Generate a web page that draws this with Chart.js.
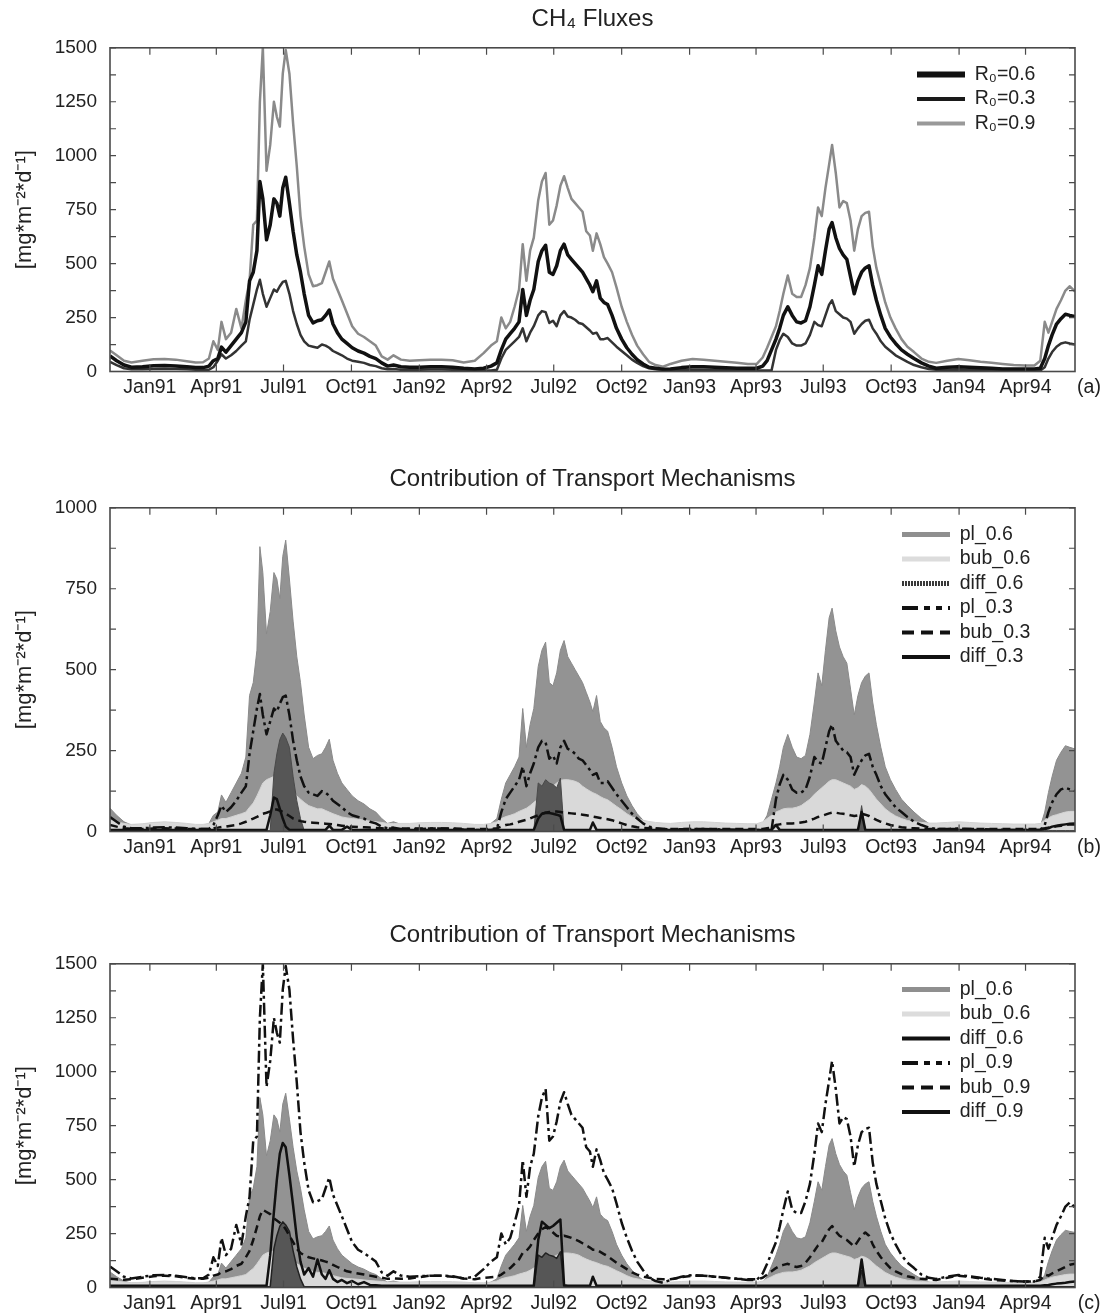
<!DOCTYPE html>
<html>
<head>
<meta charset="utf-8">
<script src="https://cdn.jsdelivr.net/npm/chart.js@4.4.1/dist/chart.umd.min.js"></script>
<style>
  html, body { margin: 0; padding: 0; background: #fff; }
  #page { position: relative; width: 1105px; height: 1316px; }
  #page canvas { position: absolute; left: 0; }
</style>
</head>
<body>
<div id="page">
  <canvas id="chartA" width="1105" height="400" style="top:0"></canvas>
  <canvas id="chartB" width="1105" height="400" style="top:460px"></canvas>
  <canvas id="chartC" width="1105" height="400" style="top:916px"></canvas>
</div>
<script>
// x values: days since 1 Jan 1991 (denser sampling in the summer seasons)
const days = [
  -54, -45, -35, -25, -10, 5, 20, 35, 50, 62, 72,
  80, 86, 92, 97, 103, 110, 117, 124, 130, 135, 140, 145, 149, 153, 158, 163, 168, 172, 176, 180,
  184, 189, 194, 199, 204, 209, 215, 221, 227, 233, 238, 243, 248, 254, 260, 267, 274, 282, 290, 298, 306, 314, 322, 330,
  340, 352, 365, 380, 395, 410, 425, 440, 452, 462,
  470, 476, 482, 488, 494, 500, 505, 510, 515, 520, 526, 531, 536, 541, 546, 551, 556, 561, 566, 571,
  576, 581, 586, 591, 596, 600, 605, 610, 615, 620, 626, 632, 639, 646, 653, 660, 668, 676, 685, 695,
  705, 720, 735, 750, 765, 780, 795, 810, 822,
  830, 836, 842, 848, 853, 858, 864, 870, 876, 882, 888, 894, 900, 905, 910, 915, 920, 924, 929, 934,
  939, 944, 949, 954, 959, 964, 969, 974, 979, 984, 990, 996, 1003, 1010, 1018, 1026, 1035, 1045, 1055,
  1065, 1080, 1095, 1110, 1125, 1140, 1155, 1170, 1185, 1198,
  1206, 1212, 1217, 1222, 1228, 1234, 1240, 1246, 1253
];

const tickDays = [0, 90, 181, 273, 365, 456, 547, 639, 731, 821, 912, 1004, 1096, 1186];
const tickLabels = ['Jan91', 'Apr91', 'Jul91', 'Oct91', 'Jan92', 'Apr92', 'Jul92', 'Oct92',
                    'Jan93', 'Apr93', 'Jul93', 'Oct93', 'Jan94', 'Apr94'];

// total fluxes (= pl_x curves in panels b and c)
const flux06 = [
  72, 50, 30, 20, 22, 27, 28, 26, 22, 18, 18,
  25, 50, 60, 113, 90, 120, 150, 180, 230, 420, 460, 560, 880, 800, 610, 680, 800, 780, 720, 850,
  900, 780, 650, 540, 460, 360, 260, 225, 235, 240, 260, 285, 220, 180, 150, 130, 110, 95, 85, 70, 60, 40, 25, 30,
  22, 20, 20, 22, 22, 20, 15, 12, 15, 25,
  40, 100, 150, 175, 200, 230, 380, 260, 330, 380, 510, 560, 585, 460, 450, 490, 560, 590, 540, 520,
  500, 480, 460, 430, 400, 370, 420, 340, 320, 310, 260, 200, 150, 110, 80, 55, 35, 20, 15, 10,
  12, 18, 22, 22, 20, 17, 15, 15, 15,
  25, 50, 100, 150, 200, 260, 300, 260, 230, 225, 235, 300, 400, 490, 450, 560, 660, 690, 620, 570,
  540, 520, 440, 360, 420, 460, 480, 490, 400, 330, 260, 200, 160, 130, 100, 80, 60, 40, 25,
  15, 20, 22, 20, 17, 15, 12, 12, 12, 12,
  15, 60, 120, 170, 220, 245, 265, 260, 255
];
const flux03 = [
  45, 30, 15, 10, 10, 12, 13, 12, 10, 8, 8,
  8, 20, 50, 80, 60, 75, 95, 120, 140, 240, 310, 380, 425, 360, 300, 340, 380, 370, 395, 415,
  420, 360, 280, 220, 170, 140, 120, 115, 110, 125, 120, 110, 95, 85, 75, 60, 50, 45, 40, 30, 25, 15, 10, 12,
  8, 8, 8, 9, 9, 8, 6, 5, 5, 5,
  8, 60, 100, 120, 140, 160, 200, 140, 180, 210, 260, 280, 275, 225, 235, 210, 260, 280, 255, 250,
  240, 225, 220, 205, 190, 175, 180, 150, 150, 155, 135, 115, 95, 75, 55, 40, 25, 15, 10, 8,
  6, 7, 8, 8, 7, 6, 5, 5, 5,
  5, 5, 5, 100, 145, 175, 160, 130, 120, 120, 130, 170, 230, 215, 210, 260, 310, 330, 280, 265,
  250, 245, 230, 175, 200, 220, 235, 240, 200, 175, 140, 115, 95, 75, 60, 45, 30, 20, 12,
  8, 8, 9, 8, 7, 6, 5, 5, 5, 5,
  5, 20, 60, 90, 115, 130, 135, 130, 125
];
const flux09 = [
  97, 75, 50, 42, 50, 57, 58, 55, 48, 42, 43,
  60, 140, 100, 230, 150, 180, 290, 200, 330, 420, 680, 700, 1250, 1500, 930, 1050, 1250, 1180, 1135, 1380,
  1490, 1380, 1150, 950, 720, 580, 450, 395, 400, 410, 460, 510, 430, 380, 330, 270, 210, 175, 160, 140, 120, 70, 55, 75,
  55, 50, 52, 55, 55, 52, 42, 50, 85, 120,
  140, 250, 200, 230, 300, 380, 590, 420, 560, 620, 794, 880, 920, 680, 700, 770, 860, 905, 850, 800,
  780, 760, 740, 650, 630, 560, 640, 590, 530, 500, 460, 390, 300, 230, 170, 120, 80, 45, 30, 22,
  35, 50, 58, 55, 50, 45, 40, 35, 35,
  65, 110, 160, 210, 280, 360, 445, 360, 345, 345, 400, 480, 620, 760, 720, 850, 960, 1050, 920, 760,
  790, 780, 700, 560, 660, 720, 735, 740, 580, 480, 400, 320, 250, 200, 150, 115, 90, 60, 45,
  40, 50, 58, 52, 45, 40, 35, 30, 28, 28,
  50, 230, 180, 230, 290, 330, 375, 395, 370
];

// bubble and diffusion parts
const bub06 = [
  35, 30, 25, 22, 24, 28, 30, 28, 25, 22, 22,
  25, 30, 35, 40, 40, 45, 50, 55, 60, 75, 88, 110, 130, 150, 160, 165, 170, 165, 160, 160,
  150, 140, 125, 110, 100, 90, 80, 75, 70, 70, 65, 60, 55, 50, 45, 42, 40, 38, 35, 32, 30, 28, 25, 25,
  25, 25, 27, 28, 28, 27, 25, 22, 22, 25,
  30, 40, 46, 50, 55, 62, 67, 72, 80, 90, 100, 110, 120, 130, 140, 150, 158, 160, 160, 158,
  155, 150, 140, 132, 125, 120, 115, 108, 102, 98, 88, 78, 67, 55, 45, 40, 35, 31, 28, 26,
  25, 28, 30, 30, 28, 26, 25, 24, 24,
  30, 40, 50, 60, 65, 70, 72, 72, 75, 80, 90, 100, 115, 125, 135, 145, 155, 160, 160, 155,
  150, 145, 140, 130, 135, 145, 140, 130, 115, 100, 85, 70, 58, 48, 40, 34, 30, 28, 26,
  26, 28, 30, 28, 26, 25, 24, 23, 23, 23,
  25, 35, 42, 48, 52, 56, 60, 62, 62
];
const diff06 = [
  3, 3, 3, 3, 3, 3, 3, 3, 3, 3, 3,
  3, 3, 3, 3, 3, 3, 3, 3, 3, 3, 3, 3, 3, 3, 3, 3, 180, 240, 284, 304,
  290, 260, 170, 95, 40, 3, 3, 3, 3, 3, 3, 3, 3, 3, 3, 3, 3, 3, 3, 3, 3, 3, 3, 3,
  3, 3, 3, 3, 3, 3, 3, 3, 3, 3,
  3, 3, 3, 3, 3, 3, 3, 3, 3, 3, 150, 140, 160, 150, 145, 135, 165, 3, 3, 3,
  3, 3, 3, 3, 3, 3, 3, 3, 3, 3, 3, 3, 3, 3, 3, 3, 3, 3, 3, 3,
  3, 3, 3, 3, 3, 3, 3, 3, 3,
  3, 3, 3, 3, 3, 3, 3, 3, 3, 3, 3, 3, 3, 3, 3, 3, 3, 3, 3, 3,
  3, 3, 3, 3, 3, 80, 3, 3, 3, 3, 3, 3, 3, 3, 3, 3, 3, 3, 3,
  3, 3, 3, 3, 3, 3, 3, 3, 3, 3,
  3, 3, 3, 3, 3, 3, 3, 3, 3
];
const bub03 = [
  20, 15, 10, 8, 8, 9, 10, 9, 8, 8, 8,
  8, 10, 12, 14, 15, 18, 20, 25, 30, 35, 40, 45, 50, 55, 58, 62, 68, 68, 65, 60,
  55, 48, 40, 36, 32, 30, 28, 27, 26, 25, 24, 23, 22, 20, 18, 16, 15, 14, 13, 12, 11, 10, 9, 9,
  9, 9, 9, 9, 9, 9, 8, 8, 8, 8,
  10, 15, 20, 22, 25, 30, 33, 36, 40, 45, 50, 55, 58, 60, 62, 62, 60, 58, 57, 56,
  55, 54, 52, 50, 48, 46, 44, 42, 40, 38, 35, 30, 25, 20, 16, 13, 11, 10, 9, 8,
  8, 8, 8, 8, 8, 8, 8, 8, 8,
  8, 10, 12, 20, 22, 24, 25, 25, 26, 28, 30, 35, 40, 45, 48, 52, 56, 58, 58, 56,
  55, 53, 50, 48, 50, 55, 52, 48, 42, 36, 30, 25, 20, 16, 13, 11, 10, 9, 8,
  8, 8, 8, 8, 8, 8, 8, 8, 8, 8,
  8, 10, 12, 14, 16, 18, 20, 22, 22
];
const diff03 = [
  5, 5, 5, 5, 5, 5, 5, 5, 5, 5, 5,
  5, 5, 5, 5, 5, 5, 5, 5, 5, 5, 5, 5, 5, 5, 5, 50, 105, 100, 70, 40,
  15, 5, 5, 5, 5, 5, 5, 5, 5, 5, 5, 18, 5, 5, 5, 15, 5, 5, 5, 5, 5, 5, 5, 5,
  5, 5, 5, 5, 5, 5, 5, 5, 5, 5,
  5, 5, 5, 5, 5, 5, 5, 5, 5, 5, 40, 55, 58, 57, 55, 52, 48, 5, 5, 5,
  5, 5, 5, 5, 5, 28, 5, 5, 5, 5, 5, 5, 5, 5, 5, 5, 5, 5, 5, 5,
  5, 5, 5, 5, 5, 5, 5, 5, 5,
  5, 5, 5, 20, 5, 5, 5, 5, 5, 5, 5, 5, 5, 5, 5, 5, 5, 5, 5, 5,
  5, 5, 5, 5, 5, 60, 5, 5, 5, 5, 5, 5, 5, 5, 5, 5, 5, 5, 5,
  5, 5, 5, 5, 5, 5, 5, 5, 5, 5,
  5, 8, 10, 15, 18, 20, 22, 24, 25
];
const bub09 = [
  40, 38, 36, 38, 45, 52, 55, 52, 45, 40, 40,
  45, 55, 60, 70, 75, 85, 100, 110, 140, 170, 220, 280, 330, 360, 350, 340, 320, 310, 300, 290,
  270, 240, 210, 180, 160, 150, 140, 135, 130, 125, 120, 115, 105, 95, 85, 75, 70, 65, 60, 55, 50, 45, 40, 42,
  40, 42, 48, 55, 55, 50, 42, 38, 45, 48,
  50, 60, 75, 90, 110, 130, 160, 170, 190, 220, 250, 270, 280, 270, 255, 240, 235, 240, 235, 230,
  222, 215, 205, 195, 185, 175, 175, 165, 155, 145, 130, 115, 100, 85, 70, 60, 50, 45, 40, 38,
  38, 48, 55, 55, 50, 45, 40, 38, 38,
  45, 60, 75, 90, 100, 105, 110, 100, 95, 100, 115, 140, 170, 195, 210, 240, 270, 285, 260, 240,
  230, 220, 205, 190, 215, 240, 255, 240, 200, 170, 140, 115, 90, 75, 62, 52, 45, 40, 38,
  35, 45, 55, 50, 42, 36, 32, 30, 28, 28,
  35, 60, 55, 65, 75, 85, 95, 105, 110
];
const diff09 = [
  8, 8, 8, 8, 8, 8, 8, 8, 8, 8, 8,
  8, 8, 8, 8, 8, 8, 8, 8, 8, 8, 8, 8, 8, 8, 8, 150, 350, 500, 620, 670,
  650, 520, 380, 230, 120, 60, 90, 50, 130, 60, 40, 80, 40, 25, 35, 20, 30, 15, 25, 12, 10, 8, 8, 8,
  8, 8, 8, 8, 8, 8, 8, 8, 8, 8,
  8, 8, 8, 8, 8, 8, 8, 8, 8, 8, 220, 305, 290, 275, 285, 300, 315, 10, 8, 8,
  8, 8, 8, 8, 8, 50, 8, 8, 8, 8, 8, 8, 8, 8, 8, 8, 8, 8, 8, 8,
  8, 8, 8, 8, 8, 8, 8, 8, 8,
  8, 8, 8, 8, 8, 8, 8, 8, 8, 8, 8, 8, 8, 8, 8, 8, 8, 8, 8, 8,
  8, 8, 8, 8, 8, 130, 8, 8, 8, 8, 8, 8, 8, 8, 8, 8, 8, 8, 8,
  8, 8, 8, 8, 8, 8, 8, 8, 8, 8,
  8, 10, 12, 15, 18, 20, 22, 25, 28
];

const FONT = '"Liberation Sans", Arial, Helvetica, sans-serif';
Chart.defaults.font.family = FONT;
Chart.defaults.color = '#222';

function pts(values) {
  return days.map((d, i) => ({ x: d, y: values[i] }));
}

function legendItems(chart) {
  return chart.data.datasets.map((ds, i) => ({
    text: ds.label,
    datasetIndex: i,
    pointStyle: 'line',
    strokeStyle: ds.legendColor || '#111',
    fillStyle: ds.legendColor || '#111',
    lineWidth: ds.legendWidth || 4,
    lineDash: ds.legendDash || [],
    lineCap: 'butt',
    fontColor: '#222',
    hidden: false
  }));
}

// box around the plot with inward ticks on all four sides, plus the panel letter
const frameAndTicks = {
  id: 'frameAndTicks',
  afterDatasetsDraw(chart, args, opts) {
    const { ctx, chartArea: a, scales } = chart;
    ctx.save();
    ctx.strokeStyle = '#4a4a4a';
    ctx.lineWidth = 1.6;
    ctx.strokeRect(a.left, a.top, a.right - a.left, a.bottom - a.top);
    ctx.lineWidth = 1.2;
    ctx.beginPath();
    scales.x.ticks.forEach(t => {
      const px = scales.x.getPixelForValue(t.value);
      ctx.moveTo(px, a.top); ctx.lineTo(px, a.top + 7);
      ctx.moveTo(px, a.bottom); ctx.lineTo(px, a.bottom - 7);
    });
    scales.y.ticks.forEach(t => {
      const py = scales.y.getPixelForValue(t.value);
      ctx.moveTo(a.left, py); ctx.lineTo(a.left + 6, py);
      ctx.moveTo(a.right, py); ctx.lineTo(a.right - 6, py);
    });
    ctx.stroke();
    ctx.fillStyle = '#222';
    ctx.font = '19.5px ' + FONT;
    ctx.textAlign = 'center';
    ctx.textBaseline = 'middle';
    ctx.fillText(opts.letter, a.right + 14, a.bottom + 16);
    ctx.restore();
  }
};

// put the legend inside the plot, upper right
const legendInside = {
  id: 'legendInside',
  afterLayout(chart, args, opts) {
    const lg = chart.legend, a = chart.chartArea;
    lg.left = a.right - opts.fromRight;
    lg.top = a.top + opts.fromTop;
    lg.right = lg.left + lg.width;
    lg.bottom = lg.top + lg.height;
  }
};

function makeChart(id, title, yMax, letter, legendRight, datasets) {
  return new Chart(document.getElementById(id), {
    type: 'line',
    data: { datasets },
    plugins: [frameAndTicks, legendInside],
    options: {
      responsive: false,
      animation: false,
      events: [],
      layout: { padding: { left: 0, right: 30, top: 0, bottom: 0 } },
      elements: {
        point: { radius: 0 },
        line: { tension: 0, borderJoinStyle: 'round', fill: false }
      },
      scales: {
        x: {
          type: 'linear',
          min: -54,
          max: 1253,
          grid: { display: false, drawTicks: false },
          border: { display: false },
          afterFit: s => { s.height = 28.5; },
          afterBuildTicks: s => { s.ticks = tickDays.map(v => ({ value: v })); },
          ticks: {
            autoSkip: false,
            maxRotation: 0,
            minRotation: 0,
            padding: 4,
            color: '#222',
            font: { size: 19.5 },
            callback: v => tickLabels[tickDays.indexOf(v)] || ''
          }
        },
        y: {
          min: 0,
          max: yMax,
          grid: { display: false, drawTicks: false },
          border: { display: false },
          afterFit: s => { s.width = 110; },
          title: {
            display: true,
            text: '[mg*m⁻²*d⁻¹]',
            color: '#222',
            font: { size: 22 },
            padding: { top: 12, bottom: 0 }
          },
          ticks: {
            stepSize: 125,
            padding: 13,
            color: '#222',
            font: { size: 19 },
            callback: v => (v % 250 === 0 ? String(v) : '')
          }
        }
      },
      plugins: {
        title: {
          display: true,
          text: title,
          fullSize: false,
          color: '#222',
          font: { size: 24, weight: 'normal' },
          padding: { top: 5, bottom: 14 }
        },
        legend: {
          position: 'chartArea',
          align: 'start',
          labels: {
            usePointStyle: true,
            pointStyle: 'line',
            pointStyleWidth: 48,
            padding: 5,
            color: '#222',
            font: { size: 19.5 },
            generateLabels: legendItems
          }
        },
        tooltip: { enabled: false },
        frameAndTicks: { letter: letter },
        legendInside: legendRight
      }
    }
  });
}

makeChart('chartA', 'CH₄ Fluxes', 1500, '(a)', { fromRight: 163, fromTop: 12 }, [
  { label: 'R₀=0.6', data: pts(flux06), borderColor: '#111', borderWidth: 3.5,
    legendColor: '#111', legendWidth: 6 },
  { label: 'R₀=0.3', data: pts(flux03), borderColor: '#333', borderWidth: 2.5,
    legendColor: '#1a1a1a', legendWidth: 4 },
  { label: 'R₀=0.9', data: pts(flux09), borderColor: '#8a8a8a', borderWidth: 2.5,
    legendColor: '#999', legendWidth: 4 }
]);

makeChart('chartB', 'Contribution of Transport Mechanisms', 1000, '(b)', { fromRight: 178, fromTop: 12 }, [
  { label: 'pl_0.6', data: pts(flux06), fill: 'origin', backgroundColor: '#939393',
    borderColor: '#8a8a8a', borderWidth: 1, order: 6, legendColor: '#8f8f8f', legendWidth: 5 },
  { label: 'bub_0.6', data: pts(bub06), fill: 'origin', backgroundColor: '#d9d9d9',
    borderColor: '#d3d3d3', borderWidth: 1, order: 5, legendColor: '#dcdcdc', legendWidth: 5 },
  { label: 'diff_0.6', data: pts(diff06), fill: 'origin', backgroundColor: '#565656',
    borderColor: '#4a4a4a', borderWidth: 1, order: 4, legendColor: '#3a3a3a', legendWidth: 5, legendDash: [2, 1] },
  { label: 'pl_0.3', data: pts(flux03), borderColor: '#111', borderWidth: 2.5, borderDash: [12, 4, 3, 4],
    order: 3, legendWidth: 4, legendDash: [16, 6, 6, 6, 6, 6] },
  { label: 'bub_0.3', data: pts(bub03), borderColor: '#111', borderWidth: 2.5, borderDash: [8, 5],
    order: 2, legendWidth: 4, legendDash: [12, 7] },
  { label: 'diff_0.3', data: pts(diff03), borderColor: '#111', borderWidth: 2.5,
    order: 1, legendWidth: 4 }
]);

makeChart('chartC', 'Contribution of Transport Mechanisms', 1500, '(c)', { fromRight: 178, fromTop: 11 }, [
  { label: 'pl_0.6', data: pts(flux06), fill: 'origin', backgroundColor: '#939393',
    borderColor: '#8a8a8a', borderWidth: 1, order: 6, legendColor: '#8f8f8f', legendWidth: 5 },
  { label: 'bub_0.6', data: pts(bub06), fill: 'origin', backgroundColor: '#d9d9d9',
    borderColor: '#d3d3d3', borderWidth: 1, order: 5, legendColor: '#dcdcdc', legendWidth: 5 },
  { label: 'diff_0.6', data: pts(diff06), fill: 'origin', backgroundColor: '#565656',
    borderColor: '#222', borderWidth: 1.5, order: 4, legendColor: '#111', legendWidth: 4 },
  { label: 'pl_0.9', data: pts(flux09), borderColor: '#111', borderWidth: 2.5, borderDash: [12, 4, 3, 4],
    order: 3, legendWidth: 4, legendDash: [16, 6, 6, 6, 6, 6] },
  { label: 'bub_0.9', data: pts(bub09), borderColor: '#111', borderWidth: 2.5, borderDash: [8, 5],
    order: 2, legendWidth: 4, legendDash: [12, 7] },
  { label: 'diff_0.9', data: pts(diff09), borderColor: '#111', borderWidth: 2.5,
    order: 1, legendWidth: 4 }
]);
</script>
</body>
</html>
